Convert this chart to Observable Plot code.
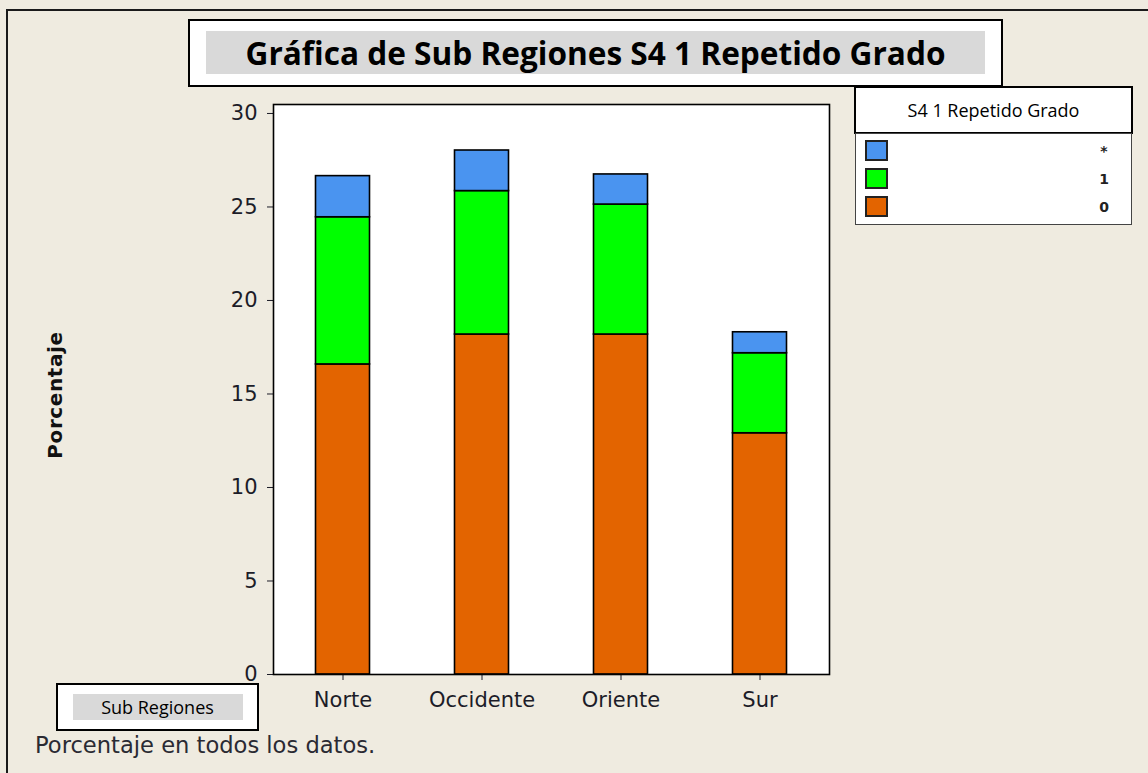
<!DOCTYPE html>
<html>
<head>
<meta charset="utf-8">
<script src="https://cdn.jsdelivr.net/npm/d3@7"></script>
<script src="https://cdn.jsdelivr.net/npm/@observablehq/plot@0.6"></script>
<style>
  html, body { margin: 0; padding: 0; }
  body { background: #EFEBE0; width: 1148px; height: 773px; overflow: hidden; position: relative; }
  #page { position: absolute; left: 0; top: 0; width: 1148px; height: 773px; }
  #chart { position: absolute; left: 0; top: 0; }
  .outer { position: absolute; left: 6px; top: 9px; width: 1200px; height: 800px;
           border-top: 2px solid #1a1a1a; border-left: 2px solid #1a1a1a; box-sizing: border-box; }
  .box { position: absolute; background: #fff; border: 2px solid #000; box-sizing: border-box; }
  .gray { position: absolute; background: #D9D9D9; }
  .title { position: absolute; left: 188px; top: 19px; width: 815px; height: 68px; }
  .title-text { position: absolute; width: 815px; text-align: center;
                font-family: "Open Sans", sans-serif; font-weight: 700; font-size: 31.6px; line-height: 36px; color: #000; }
  .leg-head { left: 854px; top: 86px; width: 279px; height: 48px; }
  .leg-head-text { position: absolute; left: 0; width: 100%; top: 11px; text-align: center;
                   font-family: "Open Sans", sans-serif; font-size: 18px; line-height: 22px; color: #000; }
  .leg-body { position: absolute; left: 855px; top: 133px; width: 277px; height: 92px;
              background: #fff; border: 1px solid #444; box-sizing: border-box; }
  .sw { position: absolute; left: 9px; width: 23px; height: 21px; border: 2px solid #222; box-sizing: border-box; }
  .sw-label { position: absolute; left: 238px; width: 20px; text-align: center;
              font-family: "DejaVu Sans", sans-serif; font-weight: 700; font-size: 14px; line-height: 16px; color: #222; }
  .sub { left: 56px; top: 683px; width: 203px; height: 48px; }
  .sub-text { text-align: center; font-family: "Open Sans", sans-serif; font-size: 18px; line-height: 22px; color: #000; }
  .caption { position: absolute; left: 35px; top: 732px; font-family: "DejaVu Sans", sans-serif;
             font-size: 22.6px; line-height: 26px; color: #2a2a33; white-space: nowrap; }
  .ylabel { position: absolute; left: 55px; top: 395px; transform: translate(-50%, -50%) rotate(-90deg);
            font-family: "DejaVu Sans", sans-serif; font-weight: 700; font-size: 20px; letter-spacing: 0.6px;
            color: #111; white-space: nowrap; }
</style>
</head>
<body>
<div id="page">
  <div id="chart"></div>
  <div class="outer"></div>
  <div class="box title"></div>
  <div class="gray" style="left:206px; top:31px; width:779px; height:43px;"></div>
  <div class="title-text" style="left:188px; top:35px;">Gráfica de Sub Regiones S4 1 Repetido Grado</div>
  <div class="box leg-head"><div class="leg-head-text">S4 1 Repetido Grado</div></div>
  <div class="leg-body" id="legbody"></div>
  <div class="box sub"></div>
  <div class="gray" style="left:73px; top:694px; width:170px; height:26px;"></div>
  <div class="sub-text" style="position:absolute; left:56px; width:203px; top:696px;">Sub Regiones</div>
  <div class="caption">Porcentaje en todos los datos.</div>
  <div class="ylabel">Porcentaje</div>
</div>
<script>
// ---- data ----
const regions = ["Norte", "Occidente", "Oriente", "Sur"];
const grades = ["0", "1", "*"];
const pct0 = [16.58, 18.18, 18.18, 12.90];
const pct1 = [7.87, 7.67, 6.95, 4.28];
const pctStar = [2.20, 2.17, 1.61, 1.12];
const gradeColors = ["#E36400", "#00FF00", "#4A94F0"];
const yTicks = [0, 5, 10, 15, 20, 25, 30];
const legendOrder = ["*", "1", "0"];

const series = [pct0, pct1, pctStar];
const data = [];
grades.forEach((g, gi) => {
  regions.forEach((r, ri) => data.push({region: r, grade: g, value: series[gi][ri]}));
});

const chart = Plot.plot({
  width: 1148,
  height: 773,
  marginLeft: 273,
  marginRight: 319,
  marginTop: 104,
  marginBottom: 99,
  style: {background: "transparent", fontFamily: "DejaVu Sans", fontSize: "21px", color: "#1c1c28", overflow: "visible"},
  x: {domain: regions, padding: 0, label: null, tickSize: 6, tickPadding: 12},
  y: {domain: [0, 30.48], ticks: yTicks, label: null, tickSize: 6, tickPadding: 10},
  color: {domain: grades, range: gradeColors},
  marks: [
    Plot.frame({fill: "white", stroke: "none"}),
    Plot.barY(data, {x: "region", y: "value", fill: "grade", order: grades, stroke: "#000",
                     strokeWidth: 1.6, insetLeft: 42.5, insetRight: 42.5}),
    Plot.frame({stroke: "#000", strokeWidth: 1.6})
  ]
});
document.getElementById("chart").appendChild(chart);

// legend from arrays
const lb = document.getElementById("legbody");
const swTops = [6, 34, 62];
legendOrder.forEach((g, i) => {
  const sw = document.createElement("div");
  sw.className = "sw";
  sw.style.top = swTops[i] + "px";
  sw.style.background = gradeColors[grades.indexOf(g)];
  lb.appendChild(sw);
  const lab = document.createElement("div");
  lab.className = "sw-label";
  lab.style.top = (swTops[i] + 3) + "px";
  lab.textContent = g;
  lb.appendChild(lab);
});
</script>
</body>
</html>
